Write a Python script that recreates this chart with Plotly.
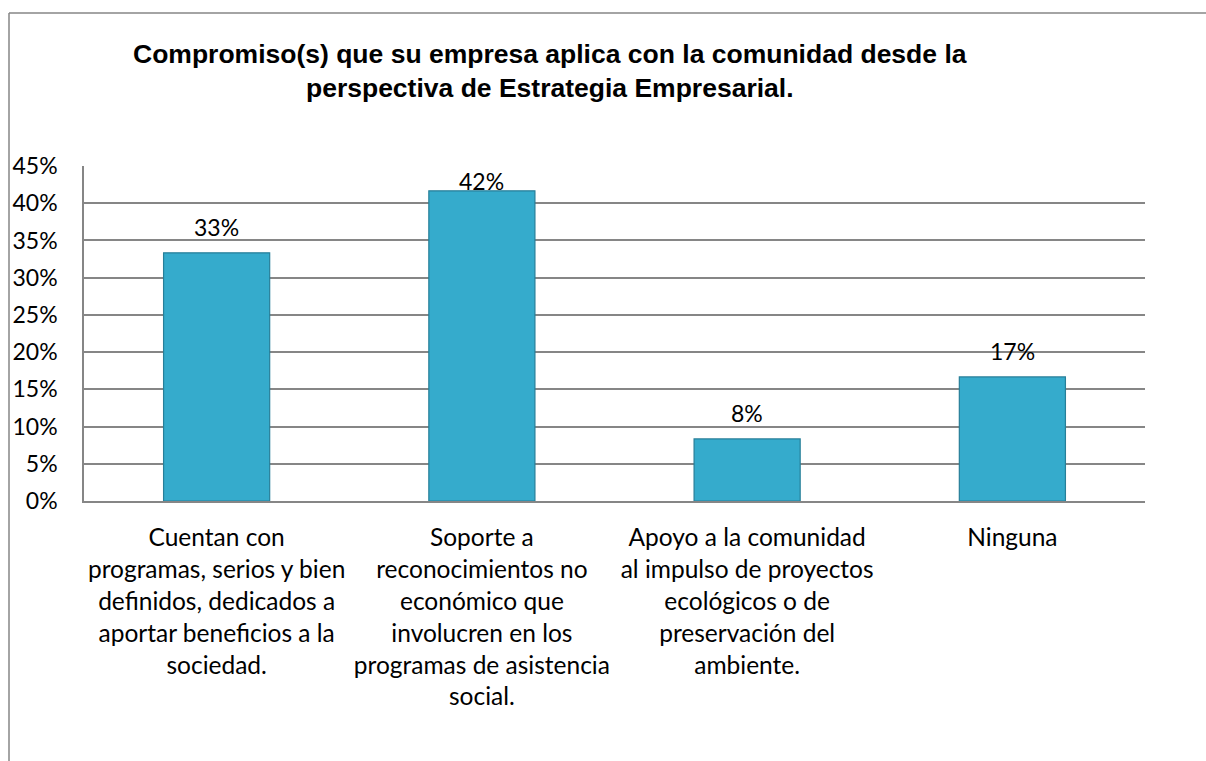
import plotly.graph_objects as go

# Survey categories (wrapped as they appear under the axis)
categorias = [
    "Cuentan con<br>programas, serios y bien<br>definidos, dedicados a<br>aportar beneficios a la<br>sociedad.",
    "Soporte a<br>reconocimientos no<br>económico que<br>involucren en los<br>programas de asistencia<br>social.",
    "Apoyo a la comunidad<br>al impulso de proyectos<br>ecológicos o de<br>preservación del<br>ambiente.",
    "Ninguna",
]
# Share of companies per commitment (fractions of 1)
porcentajes = [4 / 12, 5 / 12, 1 / 12, 2 / 12]

# Y-axis ticks
ticks_y = [0, 0.05, 0.10, 0.15, 0.20, 0.25, 0.30, 0.35, 0.40, 0.45]
ticks_y_texto = ["0%", "5%", "10%", "15%", "20%", "25%", "30%", "35%", "40%", "45%"]

titulo = ("Compromiso(s) que su empresa aplica con la comunidad desde la<br>"
          "perspectiva de Estrategia Empresarial.")

W, H = 1206, 761
ML, MR, MT, MB = 84, 61, 166, 260
plot_w = W - ML - MR
plot_h = H - MT - MB
Y_MAX = 0.45

FUENTE = "Lato, Calibri, sans-serif"
GRIS = "#868686"

fig = go.Figure()
fig.add_trace(go.Bar(
    x=categorias,
    y=porcentajes,
    marker=dict(color="#35abcc", line=dict(color="#277f99", width=1.2)),
    hoverinfo="skip",
))

# Value labels above each bar, kept inside the plotting area
for cat, val in zip(categorias, porcentajes):
    top_px = plot_h * (1 - val / Y_MAX)
    centro_px = max(top_px - 25.5, 15)
    fig.add_annotation(
        x=cat, y=val, xref="x", yref="y",
        text=f"{val:.0%}", showarrow=False,
        yanchor="middle", yshift=top_px - centro_px,
        font=dict(family=FUENTE, size=23, color="#000000"),
    )

# Chart title
titulo_y = 1 + (MT - 71.5) / plot_h
fig.add_annotation(
    x=(550 - ML) / plot_w, y=titulo_y, xref="paper", yref="paper",
    text=titulo, showarrow=False, xanchor="center", yanchor="middle",
    align="center",
    font=dict(family="Liberation Sans, Arial, sans-serif", size=26.5,
              color="#000000", weight="bold"),
)

# Outer chart frame (left and top edges; the rest runs past the page)
fx = (9 - ML) / plot_w
fy = 1 + (MT - 13) / plot_h
fig.add_shape(type="line", xref="paper", yref="paper",
              x0=fx, x1=fx, y0=-2, y1=fy,
              line=dict(color=GRIS, width=1.5))
fig.add_shape(type="line", xref="paper", yref="paper",
              x0=fx, x1=1.2, y0=fy, y1=fy,
              line=dict(color=GRIS, width=1.5))

fig.update_layout(
    width=W, height=H,
    margin=dict(l=ML, r=MR, t=MT, b=MB, autoexpand=False),
    paper_bgcolor="white",
    plot_bgcolor="white",
    showlegend=False,
    bargap=0.6,
    font=dict(family=FUENTE, size=24, color="#000000"),
)

fig.update_yaxes(
    range=[0, Y_MAX],
    tickvals=ticks_y,
    ticktext=ticks_y_texto,
    showgrid=True, gridcolor=GRIS, gridwidth=1.5,
    showline=True, linecolor=GRIS, linewidth=1.5,
    ticks="", ticklabelstandoff=20,
    tickfont=dict(family=FUENTE, size=23, color="#000000"),
    zeroline=False,
    fixedrange=True,
)
fig.update_xaxes(
    showline=True, linecolor=GRIS, linewidth=1.5,
    ticks="", ticklabelstandoff=14,
    tickfont=dict(family=FUENTE, size=24.5, color="#000000"),
    tickangle=0,
    fixedrange=True,
)

fig.write_html("out.html")
